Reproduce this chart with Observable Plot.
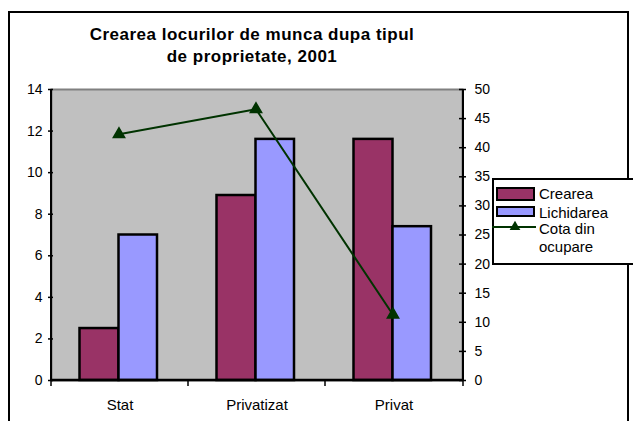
<!DOCTYPE html>
<html><head><meta charset="utf-8">
<script src="https://cdn.jsdelivr.net/npm/d3@7"></script>
<script src="https://cdn.jsdelivr.net/npm/@observablehq/plot@0.6"></script>
<style>body{margin:0;background:#fff}svg{display:block}</style>
</head><body><div id="chart"></div>
<script>
const categories = ["Stat", "Privatizat", "Privat"];
const crearea = [2.5, 8.9, 11.6];
const lichidarea = [7.0, 11.6, 7.4];
const cota = [42.3, 46.6, 11.3];
const leftTicks = [0, 2, 4, 6, 8, 10, 12, 14];
const rightTicks = [0, 5, 10, 15, 20, 25, 30, 35, 40, 45, 50];
const titleLines = ["Crearea locurilor de munca dupa tipul", "de proprietate, 2001"];
const legendLabels = [["Crearea"], ["Lichidarea"], ["Cota din", "ocupare"]];
const colors = ["#993366", "#9999FF", "#003300"];

const k = 14 / 50; // right axis -> left axis units
const rows = categories.map((c, i) => ({cat: c, crearea: crearea[i], lichidarea: lichidarea[i], cota: cota[i]}));

const W = 633, H = 421, mL = 51, mR = 171, mT = 89, mB = 41;
const innerW = W - mL - mR;
const font = "'Liberation Sans', Arial, sans-serif";

const plot = Plot.plot({
  width: W, height: H, marginLeft: mL, marginRight: mR, marginTop: mT, marginBottom: mB,
  style: {fontFamily: font, fontSize: "14px", color: "#000", background: "#fff", overflow: "visible"},
  x: {type: "band", domain: categories, padding: 0, label: null},
  y: {domain: [0, 14], label: null},
  marks: [
    Plot.frame({fill: "#c0c0c0", stroke: "#808080", strokeWidth: 2}),
    Plot.barY(rows, {x: "cat", y: "crearea", fill: colors[0], stroke: "#000", strokeWidth: 2.5, insetLeft: 28.5, insetRight: 69.5}),
    Plot.barY(rows, {x: "cat", y: "lichidarea", fill: colors[1], stroke: "#000", strokeWidth: 2.5, insetLeft: 67.5, insetRight: 31}),
    Plot.line(rows, {x: "cat", y: d => d.cota * k, stroke: colors[2], strokeWidth: 2, dx: -1}),
    Plot.dot(rows, {x: "cat", y: d => d.cota * k, symbol: "triangle", r: 4.2, fill: colors[2], stroke: colors[2], dx: -1}),
    Plot.axisY(leftTicks, {anchor: "left", tickSize: 0, tickPadding: 9, fontSize: 14, label: null}),
    Plot.tickY(leftTicks, {y: d => d, insetLeft: -3, insetRight: innerW - 2, stroke: "#000", strokeWidth: 1.5}),
    Plot.axisY(rightTicks.map(d => d * k), {anchor: "right", tickSize: 0, tickPadding: 12, fontSize: 14, label: null, tickFormat: d => Math.round(d / k)}),
    Plot.tickY(rightTicks.map(d => d * k), {y: d => d, insetLeft: innerW - 3, insetRight: -4, stroke: "#000", strokeWidth: 1.5}),
    Plot.axisX({anchor: "bottom", tickSize: 0, tickPadding: 19, fontSize: 15, label: null, lineWidth: 100})
  ]
});
document.getElementById("chart").appendChild(plot);

const svg = d3.select(plot);
const xs = plot.scale("x"), ys = plot.scale("y");
const x0 = xs.range[0], x1 = xs.range[1], y0 = ys.apply(0), yTop = ys.apply(14);
const step = (x1 - x0) / categories.length;

// axis lines
svg.append("line").attr("x1", x0).attr("x2", x0).attr("y1", yTop).attr("y2", y0).attr("stroke", "#000").attr("stroke-width", 2);
svg.append("line").attr("x1", x1 + 1).attr("x2", x1 + 1).attr("y1", yTop).attr("y2", y0).attr("stroke", "#000").attr("stroke-width", 2);
svg.append("line").attr("x1", x0).attr("x2", x1 + 1).attr("y1", y0).attr("y2", y0).attr("stroke", "#000").attr("stroke-width", 2.5);
for (let i = 0; i <= categories.length; i++) {
  const xx = x0 + i * step + (i === categories.length ? 1 : 0);
  svg.append("line").attr("x1", xx).attr("x2", xx).attr("y1", y0).attr("y2", y0 + 6).attr("stroke", "#000").attr("stroke-width", 1.5);
}

// outer border
svg.append("rect").attr("x", 9).attr("y", 12).attr("width", 619).attr("height", 450)
  .attr("fill", "none").attr("stroke", "#000").attr("stroke-width", 2);

// title
svg.append("text").attr("x", 252).attr("y", 40).attr("text-anchor", "middle")
  .attr("font-family", font).attr("font-size", 17).attr("font-weight", "bold").attr("letter-spacing", 0.5).text(titleLines[0]);
svg.append("text").attr("x", 252).attr("y", 62).attr("text-anchor", "middle")
  .attr("font-family", font).attr("font-size", 17).attr("font-weight", "bold").attr("letter-spacing", 0.5).text(titleLines[1]);

// legend
const lg = svg.append("g").attr("font-family", font).attr("font-size", 15).attr("text-anchor", "start");
lg.append("rect").attr("x", 493).attr("y", 179).attr("width", 160).attr("height", 85).attr("fill", "#fff").attr("stroke", "#000").attr("stroke-width", 2);
lg.append("rect").attr("x", 497).attr("y", 188).attr("width", 37).attr("height", 12).attr("fill", colors[0]).attr("stroke", "#000").attr("stroke-width", 2);
lg.append("text").attr("x", 539).attr("y", 199).text(legendLabels[0][0]);
lg.append("rect").attr("x", 497).attr("y", 207).attr("width", 37).attr("height", 9).attr("fill", colors[1]).attr("stroke", "#000").attr("stroke-width", 2);
lg.append("text").attr("x", 539).attr("y", 218).text(legendLabels[1][0]);
lg.append("line").attr("x1", 492).attr("x2", 536).attr("y1", 227).attr("y2", 227).attr("stroke", colors[2]).attr("stroke-width", 2);
lg.append("path").attr("transform", "translate(515,227)").attr("d", d3.symbol(d3.symbolTriangle, 50)()).attr("fill", colors[2]);
lg.append("text").attr("x", 539).attr("y", 234).text(legendLabels[2][0]);
lg.append("text").attr("x", 539).attr("y", 252).text(legendLabels[2][1]);
</script>
</body></html>
